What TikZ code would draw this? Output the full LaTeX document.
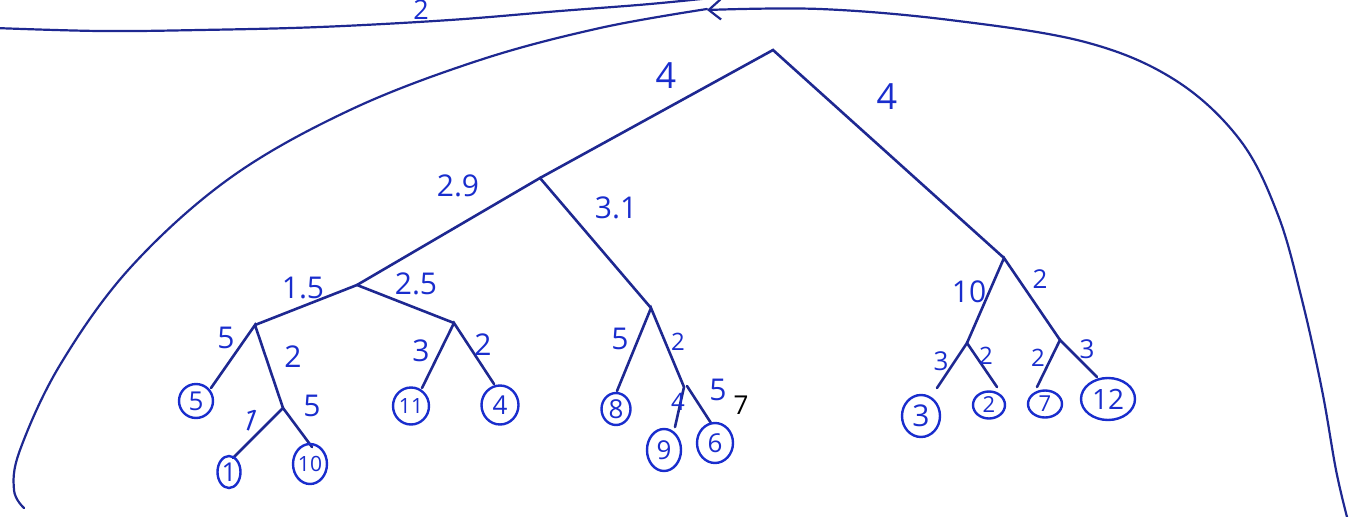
\documentclass[tikz,border=0pt]{standalone}
\usepackage{fontspec}
\setmainfont{Open Sans}
\usetikzlibrary{arrows.meta,shapes.geometric}
\definecolor{ink}{RGB}{30,40,145}
\definecolor{pen}{RGB}{25,45,205}
\begin{document}
\begin{tikzpicture}[x=1pt,y=-1pt,
  edge/.style={ink, line width=2.6pt, line cap=round},
  curve/.style={ink, line width=2.2pt, line cap=round},
  lbl/.style={pen, font=\fontsize{30}{30}\selectfont, inner sep=0pt},
  biglbl/.style={pen, font=\fontsize{36}{36}\selectfont, inner sep=0pt},
  leaf/.style={draw=pen, line width=2.4pt, ellipse, inner sep=0pt, text=pen, font=\fontsize{26}{26}\selectfont},
  leaftwo/.style={leaf, font=\fontsize{21}{21}\selectfont}]
\useasboundingbox (0,0) rectangle (1361,517);
\clip (0,0) rectangle (1361,517);
% enclosing strokes
\draw[curve] plot[smooth, tension=0.6] coordinates {(-5,28) (100,31) (200,30) (320,27) (450,20) (560,11) (650,4) (730,-4)};
\draw[curve] plot[smooth, tension=0.6] coordinates {(707,9) (600,28) (480,60) (350,110) (230,178) (130,268) (60,365) (20,450) (14,490) (24,508)};
\draw[curve, -{Straight Barb[length=12pt,width=20pt,line width=2.2pt]}] plot[smooth, tension=0.6] coordinates {(1347,517) (1336,470) (1322,390) (1302,300) (1278,215) (1240,140) (1175,80) (1085,42) (950,20) (820,9) (707,10)};
\node[lbl, font=\fontsize{27}{27}\selectfont] (ttop) at (421,10) {2};
% internal nodes
\coordinate (R) at (773,50);
\coordinate (A) at (540,178);
\coordinate (B) at (1004,258);
\coordinate (C) at (357,285);
\coordinate (D) at (651,308);
\coordinate (E) at (255,325);
\coordinate (F) at (454,323);
\coordinate (G) at (283,408);
\coordinate (H) at (684,387);
\coordinate (H2) at (687,386);
\coordinate (I) at (967,343);
\coordinate (J) at (1060,340);
% edge ends
\coordinate (e5) at (211,388);
\coordinate (e1) at (233,458);
\coordinate (e10) at (312,447);
\coordinate (e11) at (422,388);
\coordinate (e4) at (494,384);
\coordinate (e8) at (617,391);
\coordinate (e9) at (675,427);
\coordinate (e6) at (711,423);
\coordinate (e3) at (937,388);
\coordinate (e2) at (997,387);
\coordinate (e7) at (1037,387);
\coordinate (e12) at (1097,377);
% tree edges
\draw[edge] (A) -- (R) -- (B);
\draw[edge] (C) -- (A) -- (D);
\draw[edge] (E) -- (C) -- (F);
\draw[edge] (e5) -- (E) -- (G);
\draw[edge] (e1) -- (G) -- (e10);
\draw[edge] (e11) -- (F) -- (e4);
\draw[edge] (e8) -- (D) -- (H) -- (e9);
\draw[edge] (H2) -- (e6);
\draw[edge] (I) -- (B) -- (J);
\draw[edge] (e3) -- (I) -- (e2);
\draw[edge] (e7) -- (J) -- (e12);
% leaves
\node[leaf, minimum width=34, minimum height=34] (L5) at (196,401) {5};
\node[leaf, minimum width=23, minimum height=32] (L1) at (229,472) {1};
\node[leaftwo, minimum width=31, minimum height=40] (L10) at (310,464) {10};
\node[leaftwo, minimum width=36, minimum height=37] (L11) at (411,406) {11};
\node[leaf, minimum width=37, minimum height=39] (L4) at (500,405) {4};
\node[leaf, minimum width=29, minimum height=32] (L8) at (616,409) {8};
\node[leaf, minimum width=34, minimum height=42] (L9) at (664,450) {9};
\node[leaf, minimum width=36, minimum height=40] (L6) at (715,443) {6};
\node[leaf, minimum width=38, minimum height=42, font=\fontsize{30}{30}\selectfont] (L3) at (921,416) {3};
\node[leaf, minimum width=32, minimum height=27, font=\fontsize{22}{22}\selectfont] (L2) at (989,405) {2};
\node[leaf, minimum width=34, minimum height=27, font=\fontsize{22}{22}\selectfont] (L7) at (1045,404) {7};
\node[leaftwo, minimum width=54, minimum height=42, font=\fontsize{28}{28}\selectfont] (L12) at (1108,399) {12};
% edge labels
\node[biglbl] (t1) at (666,76) {4};
\node[biglbl] (t2) at (887,97) {4};
\node[lbl] (t3) at (458,186) {2.9};
\node[lbl] (t4) at (616,208) {3.1};
\node[lbl] (t5) at (303,288) {1.5};
\node[lbl] (t6) at (416,284) {2.5};
\node[lbl] (t7) at (226,338) {5};
\node[lbl] (t8) at (293,357) {2};
\node[lbl, rotate=-20] (t9) at (251,420) {1};
\node[lbl] (t10) at (312,406) {5};
\node[lbl] (t11) at (421,351) {3};
\node[lbl] (t12) at (483,345) {2};
\node[lbl] (t13) at (620,339) {5};
\node[lbl, font=\fontsize{24}{24}\selectfont] (t14) at (678,342) {2};
\node[lbl, font=\fontsize{24}{24}\selectfont] (t15) at (678,402) {4};
\node[lbl] (t16) at (718,390) {5};
\node[inner sep=0pt, font=\fontsize{26}{26}\selectfont\rmfamily] (t17) at (741,405) {7};
\node[lbl] (t18) at (969,292) {10};
\node[lbl, font=\fontsize{26}{26}\selectfont] (t19) at (1040,279) {2};
\node[lbl, font=\fontsize{26}{26}\selectfont] (t20) at (941,361) {3};
\node[lbl, font=\fontsize{24}{24}\selectfont] (t21) at (986,356) {2};
\node[lbl, font=\fontsize{24}{24}\selectfont] (t22) at (1038,358) {2};
\node[lbl, font=\fontsize{26}{26}\selectfont] (t23) at (1087,349) {3};
\end{tikzpicture}
\end{document}
